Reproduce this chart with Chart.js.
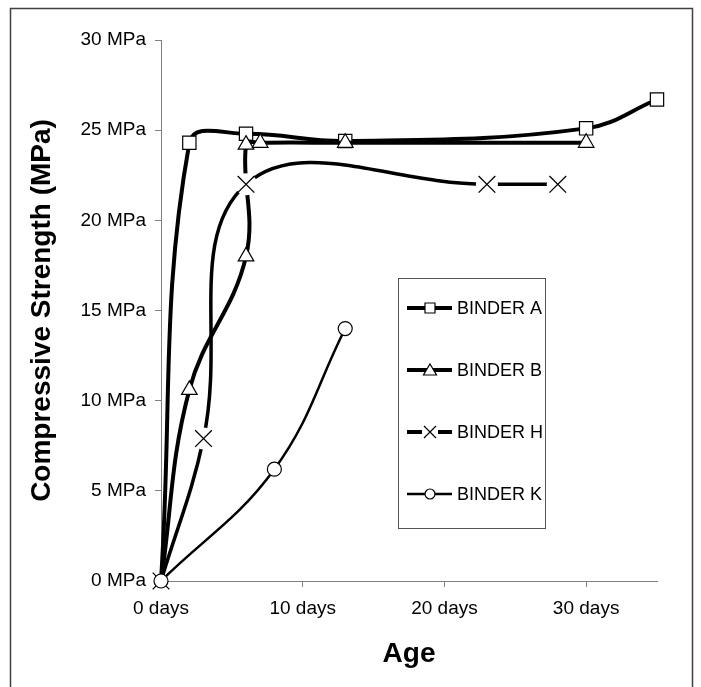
<!DOCTYPE html>
<html>
<head>
<meta charset="utf-8">
<script src="https://cdn.jsdelivr.net/npm/chart.js@4.4.1/dist/chart.umd.min.js"></script>
<style>
  html, body { margin: 0; padding: 0; background: #fff; }
</style>
</head>
<body>
<canvas id="chartStrength" width="701" height="687"></canvas>
<script>
(function () {
  if (typeof Chart === "undefined") return;

  // series data (age in days, strength in MPa)
  const binderNames = ["BINDER A", "BINDER B", "BINDER H", "BINDER K"];

  const ageA = [0, 2, 6, 13, 30, 35];
  const strengthA = [0, 24.3, 24.8, 24.4, 25.1, 26.7];

  const ageB = [0, 2, 6, 6, 7, 13, 30];
  const strengthB = [0, 10.6, 18.0, 24.2, 24.3, 24.3, 24.3];

  const ageH = [0, 3, 6, 23, 28];
  const strengthH = [0, 7.9, 22.0, 22.0, 22.0];

  const ageK = [0, 8, 13];
  const strengthK = [0, 6.2, 14.0];

  const ageTicks = [0, 10, 20, 30];
  const strengthTicks = [0, 5, 10, 15, 20, 25, 30];

  const FONT = "'Liberation Sans', Arial, sans-serif";
  const AXIS_GREY = "#808080";

  function toPoints(xs, ys) {
    return xs.map((x, i) => ({ x: x, y: ys[i] }));
  }

  const common = {
    borderColor: "#000",
    pointBorderColor: "#000",
    pointBackgroundColor: "#fff",
    pointBorderWidth: 1.2,
    tension: 0.4,
    fill: false,
    clip: false,
  };

  const noFirst = (r) => (ctx) => (ctx.dataIndex === 0 ? 0 : r);

  const datasets = [
    {
      ...common,
      label: binderNames[0],
      data: toPoints(ageA, strengthA),
      borderWidth: 4,
      pointStyle: "rect",
      pointRadius: noFirst(9.4),
      order: 10,
    },
    {
      ...common,
      label: binderNames[1],
      data: toPoints(ageB, strengthB),
      borderWidth: 4,
      pointStyle: "triangle",
      pointRadius: noFirst(9),
      order: 9,
    },
    {
      ...common,
      label: binderNames[2],
      data: toPoints(ageH, strengthH),
      borderWidth: 3.5,
      pointRadius: 0,
      order: 8,
    },
    {
      // white gap behind the X markers
      ...common,
      label: "_halo",
      data: toPoints(ageH, strengthH),
      showLine: false,
      pointStyle: "circle",
      pointBorderWidth: 0,
      pointBorderColor: "#fff",
      pointRadius: noFirst(11),
      order: 7,
    },
    {
      ...common,
      label: "_marks",
      data: toPoints(ageH, strengthH),
      showLine: false,
      pointStyle: "crossRot",
      pointBorderWidth: 1.3,
      pointRadius: 11.8,
      order: 6,
    },
    {
      ...common,
      label: binderNames[3],
      data: toPoints(ageK, strengthK),
      borderWidth: 2.5,
      pointStyle: "circle",
      pointRadius: 7,
      order: 5,
    },
  ];

  const legendStyles = [
    { marker: "rect", lineWidth: 4 },
    { marker: "triangle", lineWidth: 4 },
    { marker: "cross", lineWidth: 4 },
    { marker: "circle", lineWidth: 2.5 },
  ];

  function drawMarker(ctx, kind, x, y) {
    ctx.save();
    ctx.lineWidth = 1.2;
    ctx.strokeStyle = "#000";
    ctx.fillStyle = "#fff";
    ctx.beginPath();
    if (kind === "rect") {
      ctx.rect(x - 5, y - 5, 10, 10);
      ctx.fill();
      ctx.stroke();
    } else if (kind === "triangle") {
      ctx.moveTo(x, y - 6);
      ctx.lineTo(x + 6.5, y + 5);
      ctx.lineTo(x - 6.5, y + 5);
      ctx.closePath();
      ctx.fill();
      ctx.stroke();
    } else if (kind === "circle") {
      ctx.arc(x, y, 5, 0, Math.PI * 2);
      ctx.fill();
      ctx.stroke();
    } else {
      ctx.fillRect(x - 8, y - 7, 16, 14);
      ctx.moveTo(x - 6, y - 6);
      ctx.lineTo(x + 6, y + 6);
      ctx.moveTo(x + 6, y - 6);
      ctx.lineTo(x - 6, y + 6);
      ctx.stroke();
    }
    ctx.restore();
  }

  function drawLegend(ctx) {
    const bx = 398.5, by = 278.5, bw = 147, bh = 250;
    const rows = [308, 370, 432, 494];
    ctx.save();
    ctx.fillStyle = "#fff";
    ctx.fillRect(bx, by, bw, bh);
    ctx.strokeStyle = "#555";
    ctx.lineWidth = 1;
    ctx.strokeRect(bx, by, bw, bh);

    ctx.font = "18px " + FONT;
    ctx.textAlign = "left";
    ctx.textBaseline = "middle";
    legendStyles.forEach((st, i) => {
      const y = rows[i];
      ctx.strokeStyle = "#000";
      ctx.lineWidth = st.lineWidth;
      ctx.beginPath();
      ctx.moveTo(407, y);
      ctx.lineTo(452, y);
      ctx.stroke();
      drawMarker(ctx, st.marker, 430, y);
      ctx.fillStyle = "#000";
      ctx.fillText(binderNames[i], 457, y + 1);
    });
    ctx.restore();
  }

  const decorations = {
    id: "decorations",
    beforeDraw(chart) {
      const ctx = chart.ctx;
      ctx.save();
      ctx.fillStyle = "#fff";
      ctx.fillRect(0, 0, chart.width, chart.height);
      ctx.restore();
    },
    afterDraw(chart) {
      const ctx = chart.ctx;
      const area = chart.chartArea;
      ctx.save();
      // outer frame
      ctx.strokeStyle = "#404040";
      ctx.lineWidth = 1.5;
      ctx.beginPath();
      ctx.moveTo(10.5, 700);
      ctx.lineTo(10.5, 8.5);
      ctx.lineTo(692.5, 8.5);
      ctx.lineTo(692.5, 700);
      ctx.stroke();

      // axis titles
      ctx.fillStyle = "#000";
      ctx.font = "bold 28px " + FONT;
      ctx.textAlign = "center";
      ctx.textBaseline = "alphabetic";
      ctx.fillText("Age", (area.left + area.right) / 2, 662);
      ctx.translate(50, (area.top + area.bottom) / 2);
      ctx.rotate(-Math.PI / 2);
      ctx.fillText("Compressive Strength (MPa)", 0, 0);
      ctx.restore();

      drawLegend(ctx);
    },
  };

  const canvas = document.getElementById("chartStrength");

  new Chart(canvas, {
    type: "line",
    data: { datasets },
    options: {
      responsive: false,
      animation: false,
      events: [],
      layout: { padding: { top: 40, right: 44, left: 0, bottom: 0 } },
      plugins: {
        legend: { display: false },
        tooltip: { enabled: false },
      },
      scales: {
        x: {
          type: "linear",
          min: 0,
          max: 35,
          afterBuildTicks: (s) => {
            s.ticks = ageTicks.map((v) => ({ value: v }));
          },
          afterFit: (s) => {
            s.height = 106;
          },
          grid: {
            drawOnChartArea: false,
            drawTicks: true,
            tickLength: 6,
            tickColor: AXIS_GREY,
          },
          border: { color: AXIS_GREY, width: 1 },
          ticks: {
            color: "#000",
            font: { family: FONT, size: 19 },
            padding: 10,
            maxRotation: 0,
            callback: (v) => v + " days",
          },
        },
        y: {
          type: "linear",
          min: 0,
          max: 30,
          afterBuildTicks: (s) => {
            s.ticks = strengthTicks.map((v) => ({ value: v }));
          },
          afterFit: (s) => {
            s.width = 161;
          },
          grid: {
            drawOnChartArea: false,
            drawTicks: true,
            tickLength: 6,
            tickColor: AXIS_GREY,
          },
          border: { color: AXIS_GREY, width: 1 },
          ticks: {
            color: "#000",
            font: { family: FONT, size: 19 },
            padding: 9,
            callback: (v) => v + " MPa",
          },
        },
      },
    },
    plugins: [decorations],
  });
})();
</script>
</body>
</html>
